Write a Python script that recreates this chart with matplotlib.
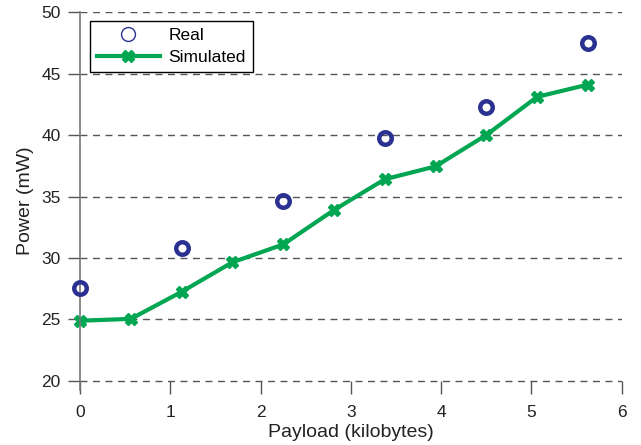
import matplotlib
matplotlib.use("Agg")
import matplotlib.pyplot as plt
from matplotlib.lines import Line2D

plt.rcParams['font.family'] = ['Liberation Sans', 'DejaVu Sans']

sim_x = [0, 0.5625, 1.125, 1.6875, 2.25, 2.8125, 3.375, 3.9375, 4.5, 5.0625, 5.625]
sim_y = [24.9, 25.05, 27.25, 29.65, 31.1, 33.9, 36.4, 37.45, 40.0, 43.1, 44.1]
real_x = [0, 1.125, 2.25, 3.375, 4.5, 5.625]
real_y = [27.55, 30.8, 34.65, 39.75, 42.3, 47.5]
xticks = [0, 1, 2, 3, 4, 5, 6]
yticks = [20, 25, 30, 35, 40, 45, 50]

blue = '#2B3190'
green = '#00A651'

fig = plt.figure(figsize=(6.41, 4.45), dpi=100)
ax = fig.add_axes([0.1248, 0.1245, 0.970 - 0.1248, 0.973 - 0.1245])

for y in yticks:
    ax.axhline(y, color='#555555', lw=1.0, ls=(0, (5, 4)), zorder=1)

ax.plot(real_x, real_y, ls='none', marker='o', ms=9, mfc='none', mec=blue, mew=3.2, zorder=3, clip_on=False)
ax.plot(sim_x, sim_y, color=green, lw=3, marker='X', ms=8, mfc=green, mec=green, zorder=2, clip_on=False)

h1 = Line2D([], [], ls='none', marker='o', ms=10, mfc='none', mec=blue, mew=1.0)
h2 = Line2D([], [], color=green, lw=3, marker='X', ms=8, mfc=green, mec=green)
leg = ax.legend([h1, h2], ['Real', 'Simulated'], loc='upper left', bbox_to_anchor=(0.019, 0.976),
                fontsize=12.5, frameon=True, fancybox=False, handlelength=3.6, borderpad=0.4,
                labelspacing=0.4, handletextpad=0.5, borderaxespad=0)
leg.get_frame().set_edgecolor('black')
leg.get_frame().set_linewidth(1.0)
leg.get_frame().set_alpha(1)

ax.set_xlim(0, 6)
ax.set_ylim(19.3, 50)
ax.set_xticks(xticks)
ax.set_yticks(yticks)
for s in ['top', 'right']:
    ax.spines[s].set_visible(False)
ax.spines['bottom'].set_position(('data', 20))
ax.spines['bottom'].set_visible(False)
ax.spines['left'].set_color('#777777')
ax.spines['left'].set_linewidth(1.2)
ax.tick_params(axis='both', direction='out', color='#555555', width=1.0, labelsize=12.5, labelcolor='#222222')
ax.tick_params(axis='x', length=9, pad=8)
ax.tick_params(axis='y', length=9, pad=5)
ax.set_xlabel('Payload (kilobytes)', fontsize=14, color='#222222', labelpad=3)
ax.set_ylabel('Power (mW)', fontsize=14, color='#222222', labelpad=5)

fig.savefig('out.png', dpi=100)
